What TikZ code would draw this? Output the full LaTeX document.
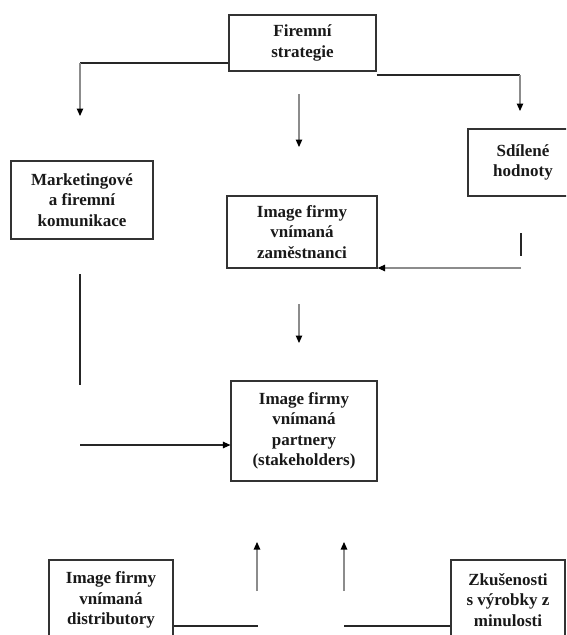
\documentclass[tikz,border=0pt]{standalone}
\usepackage{fontspec}
\setmainfont{Liberation Serif}
\usetikzlibrary{arrows.meta}

\begin{document}
\begin{tikzpicture}[x=1pt,y=-1pt,
  box/.style={draw=black!80,line width=1.1pt,align=center,inner sep=0pt,
    font=\fontsize{17}{20.5}\selectfont\bfseries,text=black!90},
  link/.style={draw=black!85,line width=1.1pt},
  tip/.style={-{Triangle[length=7.5pt,width=6.5pt,color=black]}},
  flow/.style={draw=black!45,line width=1.1pt,tip}]
  \clip (0,0) rectangle (566,635);
  % boxes
  \node[box,minimum width=147pt,minimum height=56pt] (strat) at (302.5,43) {Firemní\\strategie};
  \node[box,minimum width=142pt,minimum height=78pt] (mkt) at (82,200) {Marketingové\\a firemní\\komunikace};
  \node[box,minimum width=110pt,minimum height=67pt] (shared) at (523,162.5) {Sdílené\\hodnoty};
  \node[box,minimum width=150pt,minimum height=72pt] (empl) at (302,232) {Image firmy\\vnímaná\\zaměstnanci};
  \node[box,minimum width=146pt,minimum height=100pt] (partn) at (304,431) {Image firmy\\vnímaná\\partnery\\(stakeholders)};
  \node[box,minimum width=124pt,minimum height=80pt] (distr) at (111,600) {Image firmy\\vnímaná\\distributory};
  \node[box,minimum width=114pt,minimum height=80pt] (exp) at (508,600) {Zkušenosti\\s výrobky z\\minulosti};
  % free ends
  \coordinate (lc) at (80,63);
  \coordinate (rc) at (520,75);
  \coordinate (mkttop) at (80,116);
  \coordinate (sharedtop) at (520,111);
  % top connectors
  \draw[link] (strat.west |- lc) -- (lc);
  \draw[flow] (lc) -- (mkttop);
  \draw[link] (strat.east |- rc) -- (rc);
  \draw[flow] (rc) -- (sharedtop);
  \draw[flow] (299,94) -- (299,147);
  % right side
  \draw[link] (521,233) -- (521,256);
  \draw[flow] (521,268) -- (empl.east |- 0,268);
  % middle and left
  \draw[flow] (299,304) -- (299,343);
  \draw[link] (80,274) -- (80,385);
  \draw[link,tip] (80,445) -- (partn.west |- 0,445);
  % bottom
  \draw[flow] (257,591) -- (257,542);
  \draw[flow] (344,591) -- (344,542);
  \draw[link] (distr.east |- 0,626) -- (258,626);
  \draw[link] (344,626) -- (exp.west |- 0,626);
\end{tikzpicture}
\end{document}
